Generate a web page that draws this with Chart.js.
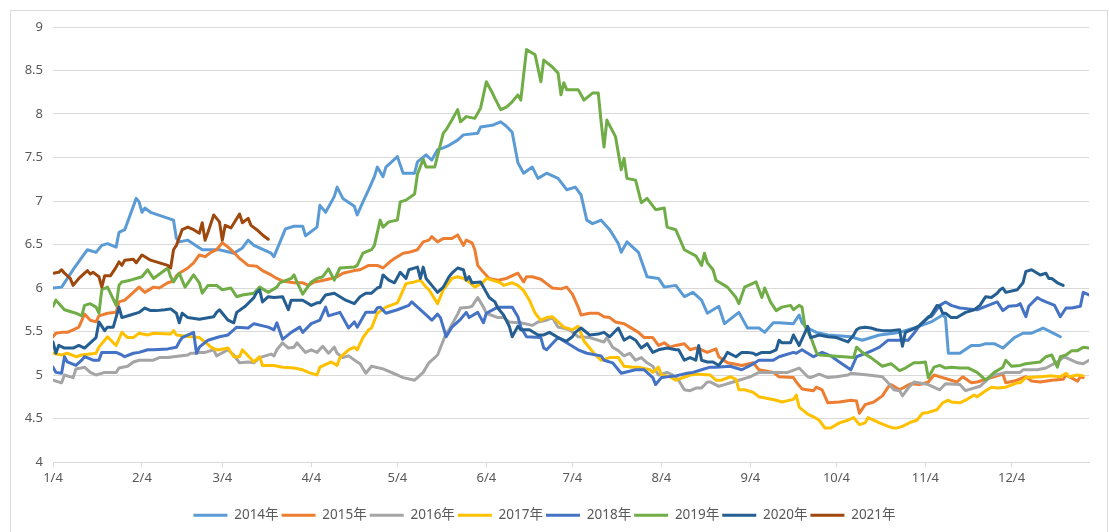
<!DOCTYPE html>
<html>
<head>
<meta charset="utf-8">
<script src="https://cdn.jsdelivr.net/npm/chart.js@4/dist/chart.umd.min.js"></script>
<style>
  html, body { margin: 0; padding: 0; background: #fff; overflow: hidden; }
  #wrap { position: relative; width: 1109px; height: 532px; }
  #frame { position: absolute; left: 10px; top: 10px; width: 1096px; height: 540px;
           border: 1px solid #d9d9d9; pointer-events: none; }
  canvas { position: absolute; left: 0; top: 0; }
</style>
</head>
<body>
<div id="wrap">
  <canvas id="chart" width="1109" height="532"></canvas>
  <div id="frame"></div>
</div>
<script>
// x = days since 1/4, y = value
const monthLabels = ['1/4', '2/4', '3/4', '4/4', '5/4', '6/4', '7/4', '8/4', '9/4', '10/4', '11/4', '12/4'];
const monthDays   = [0, 31, 59, 90, 120, 151, 181, 212, 243, 273, 304, 334];
const seriesNames = ['2014年', '2015年', '2016年', '2017年', '2018年', '2019年', '2020年', '2021年'];
const seriesColors = ['#5B9BD5', '#ED7D31', '#A5A5A5', '#FFC000', '#4472C4', '#70AD47', '#255E91', '#9E480E'];

const y2014 = [[0,6.00],[3,6.01],[7,6.21],[12,6.44],[15,6.41],[17,6.49],[19,6.51],[22,6.47],[23,6.64],[25,6.67],[29,7.03],[30,6.99],[31,6.87],[32,6.92],[34,6.87],[42,6.78],[43,6.57],[44,6.53],[47,6.55],[52,6.44],[58,6.44],[63,6.40],[66,6.46],[68,6.55],[70,6.49],[76,6.40],[77,6.36],[81,6.68],[84,6.71],[87,6.71],[88,6.60],[92,6.70],[93,6.95],[95,6.87],[98,7.05],[99,7.16],[101,7.03],[105,6.94],[106,6.84],[108,6.99],[110,7.13],[112,7.28],[113,7.39],[115,7.28],[116,7.39],[120,7.51],[122,7.32],[126,7.32],[127,7.45],[130,7.53],[132,7.47],[134,7.59],[136,7.61],[138,7.64],[141,7.70],[143,7.76],[148,7.78],[149,7.85],[153,7.87],[156,7.91],[158,7.86],[160,7.79],[162,7.44],[164,7.32],[167,7.39],[169,7.26],[172,7.32],[176,7.26],[179,7.13],[182,7.16],[184,7.07],[186,6.78],[188,6.74],[191,6.78],[194,6.67],[197,6.51],[198,6.41],[200,6.53],[204,6.41],[207,6.13],[211,6.11],[213,6.01],[217,6.03],[220,5.90],[223,5.95],[226,5.86],[228,5.71],[232,5.79],[234,5.59],[239,5.72],[242,5.54],[246,5.54],[248,5.49],[251,5.60],[253,5.60],[258,5.59],[260,5.69],[261,5.60],[263,5.54],[266,5.49],[270,5.46],[278,5.44],[282,5.40],[288,5.46],[293,5.48],[296,5.50],[301,5.55],[306,5.61],[310,5.69],[311,5.66],[312,5.25],[316,5.25],[320,5.34],[323,5.34],[325,5.36],[328,5.36],[331,5.31],[335,5.43],[338,5.48],[341,5.48],[345,5.54],[348,5.49],[351,5.44]];

const y2015 = [[0,5.44],[1,5.48],[3,5.49],[5,5.49],[7,5.52],[9,5.55],[11,5.70],[13,5.63],[15,5.61],[16,5.68],[19,5.71],[22,5.72],[23,5.84],[25,5.86],[28,5.95],[30,6.01],[32,5.95],[35,6.01],[37,6.00],[40,6.06],[42,6.08],[43,6.14],[44,6.17],[47,6.23],[49,6.29],[51,6.38],[53,6.36],[55,6.41],[57,6.44],[59,6.52],[61,6.47],[63,6.41],[65,6.34],[68,6.26],[71,6.25],[73,6.20],[76,6.15],[78,6.11],[80,6.08],[84,6.06],[87,6.06],[89,6.03],[91,6.07],[93,6.08],[97,6.11],[99,6.13],[101,6.17],[105,6.20],[107,6.21],[110,6.26],[113,6.26],[115,6.23],[117,6.29],[119,6.34],[122,6.40],[124,6.41],[127,6.44],[129,6.53],[131,6.55],[132,6.59],[134,6.53],[136,6.57],[139,6.57],[141,6.61],[143,6.49],[144,6.55],[146,6.52],[147,6.44],[148,6.26],[150,6.18],[152,6.11],[155,6.09],[158,6.11],[162,6.17],[164,6.07],[165,6.13],[167,6.13],[170,6.10],[172,6.05],[174,6.00],[177,5.99],[179,6.01],[181,5.93],[183,5.78],[184,5.69],[187,5.71],[190,5.71],[192,5.67],[194,5.66],[196,5.61],[199,5.59],[201,5.55],[204,5.49],[206,5.43],[209,5.43],[211,5.34],[213,5.37],[215,5.32],[217,5.34],[220,5.36],[222,5.29],[224,5.31],[226,5.29],[228,5.26],[231,5.30],[232,5.21],[235,5.14],[237,5.13],[240,5.11],[244,5.14],[246,5.06],[251,5.03],[253,4.98],[258,4.97],[259,4.92],[261,4.84],[265,4.82],[266,4.86],[268,4.83],[270,4.68],[274,4.69],[278,4.71],[280,4.70],[281,4.56],[283,4.66],[286,4.69],[289,4.76],[291,4.86],[292,4.89],[295,4.83],[299,4.90],[302,4.89],[305,4.92],[307,5.00],[310,4.97],[313,4.94],[315,4.92],[317,4.98],[320,4.91],[322,4.92],[324,4.94],[327,4.97],[331,5.01],[332,4.91],[335,4.93],[339,4.98],[341,4.93],[344,4.92],[348,4.94],[352,4.95],[353,5.00],[357,4.93],[358,4.98],[359,4.97]];

const y2016 = [[0,4.94],[3,4.91],[4,5.00],[7,4.97],[8,5.07],[11,5.09],[13,5.03],[15,5.00],[18,5.03],[20,5.03],[22,5.03],[23,5.08],[26,5.10],[28,5.15],[30,5.17],[33,5.17],[35,5.17],[37,5.20],[40,5.20],[42,5.21],[47,5.23],[48,5.25],[50,5.25],[51,5.26],[53,5.26],[56,5.29],[57,5.22],[61,5.29],[63,5.23],[65,5.14],[68,5.15],[70,5.14],[72,5.20],[76,5.24],[77,5.22],[78,5.29],[80,5.37],[82,5.31],[84,5.32],[85,5.37],[88,5.26],[90,5.29],[92,5.26],[94,5.33],[96,5.25],[98,5.32],[99,5.25],[101,5.20],[103,5.22],[106,5.15],[107,5.13],[109,5.02],[111,5.10],[115,5.07],[120,5.00],[122,4.97],[126,4.94],[127,4.97],[129,5.03],[131,5.14],[134,5.23],[137,5.48],[138,5.52],[141,5.70],[142,5.77],[145,5.78],[146,5.79],[148,5.89],[150,5.78],[151,5.71],[155,5.66],[157,5.66],[159,5.61],[162,5.60],[163,5.60],[167,5.57],[169,5.61],[172,5.63],[174,5.66],[176,5.55],[180,5.52],[183,5.44],[187,5.43],[192,5.38],[193,5.43],[195,5.32],[197,5.28],[199,5.22],[201,5.25],[203,5.17],[205,5.20],[207,5.14],[209,5.10],[211,5.00],[214,5.03],[216,5.00],[218,4.94],[220,4.83],[222,4.82],[224,4.85],[226,4.85],[228,4.92],[229,4.92],[232,4.87],[234,4.89],[237,4.92],[239,4.94],[242,4.97],[243,4.98],[246,5.03],[251,5.03],[256,5.03],[260,5.08],[263,4.98],[264,4.97],[267,5.01],[270,4.97],[273,4.98],[277,5.00],[278,5.02],[284,5.00],[289,4.98],[291,4.91],[293,4.83],[295,4.82],[296,4.76],[298,4.85],[300,4.92],[305,4.89],[309,4.83],[311,4.90],[316,4.89],[318,4.82],[323,4.87],[327,4.99],[332,5.03],[337,5.03],[338,5.06],[343,5.06],[346,5.08],[350,5.15],[352,5.20],[353,5.20],[357,5.14],[359,5.13],[361,5.17]];

const y2017 = [[0,5.25],[3,5.23],[5,5.25],[8,5.21],[10,5.23],[15,5.25],[16,5.32],[18,5.40],[19,5.44],[21,5.37],[22,5.34],[24,5.49],[26,5.43],[28,5.43],[30,5.48],[33,5.46],[35,5.48],[41,5.47],[42,5.51],[43,5.46],[48,5.44],[51,5.43],[53,5.38],[55,5.32],[57,5.29],[58,5.29],[61,5.31],[63,5.21],[65,5.21],[66,5.29],[70,5.15],[72,5.21],[73,5.11],[77,5.11],[80,5.09],[84,5.08],[87,5.06],[89,5.03],[91,5.01],[92,5.00],[93,5.09],[97,5.15],[99,5.11],[100,5.20],[103,5.29],[105,5.32],[106,5.29],[108,5.43],[110,5.52],[111,5.54],[113,5.71],[116,5.78],[120,5.83],[121,5.90],[123,6.05],[126,6.07],[128,6.09],[130,6.01],[131,5.98],[134,5.82],[136,5.98],[139,6.11],[141,6.13],[143,6.11],[145,6.07],[147,6.01],[150,6.07],[151,6.11],[153,6.09],[156,6.06],[157,6.03],[160,6.06],[162,6.03],[164,5.97],[166,5.86],[168,5.71],[170,5.63],[172,5.66],[174,5.67],[178,5.55],[181,5.52],[183,5.56],[185,5.39],[187,5.31],[189,5.23],[191,5.17],[194,5.20],[197,5.20],[199,5.10],[202,5.09],[204,5.09],[208,5.06],[209,5.03],[211,5.09],[212,5.00],[215,4.98],[217,4.94],[222,5.00],[225,5.01],[229,5.00],[231,4.94],[233,4.94],[236,4.98],[238,4.95],[239,4.83],[241,4.83],[244,4.80],[246,4.75],[252,4.71],[254,4.69],[258,4.72],[259,4.77],[260,4.63],[263,4.55],[265,4.52],[267,4.48],[269,4.39],[271,4.39],[274,4.45],[277,4.48],[279,4.51],[281,4.43],[283,4.45],[284,4.51],[288,4.45],[291,4.41],[293,4.39],[294,4.39],[296,4.41],[299,4.46],[301,4.48],[303,4.56],[305,4.57],[308,4.60],[310,4.68],[312,4.71],[313,4.69],[316,4.68],[318,4.71],[321,4.77],[322,4.75],[325,4.82],[327,4.86],[329,4.85],[332,4.86],[336,4.91],[337,4.91],[339,4.97],[340,4.97],[344,4.98],[348,4.99],[351,4.98],[353,5.02],[354,4.98],[357,5.00],[359,4.99]];

const y2018 = [[0,5.09],[1,5.03],[3,5.02],[4,5.21],[5,5.15],[8,5.11],[10,5.17],[11,5.21],[14,5.17],[16,5.17],[17,5.26],[22,5.26],[24,5.23],[25,5.21],[28,5.25],[30,5.26],[33,5.29],[35,5.29],[40,5.30],[43,5.32],[44,5.38],[45,5.43],[49,5.49],[50,5.25],[51,5.32],[54,5.40],[58,5.44],[61,5.46],[63,5.52],[64,5.55],[68,5.54],[70,5.59],[75,5.55],[77,5.52],[78,5.60],[80,5.41],[83,5.49],[86,5.55],[87,5.49],[90,5.59],[93,5.63],[95,5.78],[96,5.68],[100,5.72],[103,5.54],[105,5.61],[106,5.55],[109,5.72],[112,5.72],[113,5.77],[114,5.78],[116,5.71],[120,5.75],[124,5.80],[125,5.84],[130,5.69],[132,5.63],[134,5.70],[135,5.66],[137,5.44],[139,5.55],[142,5.64],[144,5.72],[145,5.66],[148,5.72],[150,5.60],[151,5.71],[155,5.78],[158,5.78],[160,5.78],[162,5.67],[163,5.55],[165,5.44],[170,5.43],[171,5.31],[172,5.29],[176,5.43],[179,5.37],[183,5.29],[186,5.25],[191,5.22],[192,5.17],[195,5.14],[198,5.02],[203,5.06],[206,5.06],[207,5.03],[209,4.97],[210,4.89],[212,4.97],[217,4.99],[221,5.02],[223,5.03],[226,5.06],[229,5.09],[231,5.09],[236,5.10],[240,5.06],[243,5.11],[246,5.17],[251,5.17],[253,5.21],[258,5.26],[259,5.25],[261,5.29],[265,5.21],[268,5.26],[271,5.22],[274,5.15],[278,5.06],[280,5.21],[284,5.26],[286,5.29],[288,5.32],[291,5.40],[293,5.40],[295,5.40],[298,5.40],[300,5.48],[302,5.57],[305,5.67],[306,5.67],[307,5.71],[309,5.80],[311,5.84],[313,5.80],[316,5.77],[319,5.76],[322,5.75],[325,5.79],[329,5.84],[331,5.74],[333,5.79],[336,5.80],[337,5.82],[339,5.67],[340,5.79],[343,5.89],[344,5.87],[346,5.84],[349,5.80],[351,5.67],[353,5.77],[355,5.77],[358,5.79],[359,5.95],[361,5.92]];

const y2019 = [[0,5.79],[1,5.86],[4,5.75],[8,5.71],[10,5.68],[11,5.80],[13,5.82],[15,5.78],[16,5.71],[17,5.98],[19,6.01],[22,5.80],[23,6.03],[24,6.07],[27,6.09],[31,6.13],[33,6.21],[35,6.11],[40,6.23],[41,6.13],[42,6.07],[44,6.17],[46,6.01],[49,6.15],[51,6.06],[52,5.94],[54,6.03],[57,6.03],[59,5.98],[62,6.00],[64,5.90],[66,5.92],[70,5.94],[72,6.01],[75,5.95],[78,6.01],[79,6.06],[83,6.11],[84,6.15],[85,6.07],[87,5.93],[90,6.07],[92,6.11],[94,6.13],[96,6.22],[98,6.09],[100,6.23],[105,6.24],[106,6.26],[108,6.40],[111,6.44],[112,6.49],[114,6.78],[115,6.70],[117,6.76],[120,6.78],[121,6.99],[123,7.01],[126,7.08],[127,7.31],[129,7.48],[130,7.39],[133,7.39],[136,7.78],[137,7.82],[139,7.93],[141,8.05],[142,7.91],[144,7.97],[147,7.95],[149,8.07],[151,8.37],[153,8.25],[154,8.18],[156,8.05],[158,8.08],[160,8.14],[162,8.22],[163,8.16],[165,8.74],[168,8.68],[170,8.37],[171,8.62],[174,8.54],[176,8.47],[177,8.22],[178,8.36],[179,8.28],[183,8.28],[185,8.16],[188,8.24],[190,8.24],[191,7.91],[192,7.62],[193,7.93],[196,7.74],[198,7.36],[199,7.49],[200,7.26],[203,7.24],[205,6.98],[207,7.03],[210,6.90],[213,6.92],[214,6.70],[217,6.67],[220,6.44],[224,6.37],[226,6.26],[227,6.40],[228,6.29],[230,6.21],[231,6.09],[235,6.01],[238,5.89],[239,5.82],[241,6.01],[245,6.07],[247,5.89],[248,6.00],[250,5.84],[252,5.74],[254,5.78],[257,5.80],[258,5.75],[260,5.80],[261,5.78],[262,5.56],[264,5.44],[266,5.26],[267,5.23],[279,5.20],[280,5.32],[282,5.26],[285,5.20],[289,5.10],[292,5.13],[295,5.05],[297,5.08],[300,5.14],[302,5.14],[304,5.15],[305,4.97],[307,5.09],[309,5.11],[311,5.08],[313,5.09],[316,5.08],[319,5.08],[322,5.03],[325,4.94],[328,5.03],[331,5.09],[332,5.17],[334,5.10],[337,5.11],[339,5.13],[344,5.15],[346,5.21],[348,5.23],[350,5.09],[351,5.21],[353,5.23],[355,5.28],[357,5.28],[359,5.32],[361,5.31]];

const y2020 = [[0,5.38],[1,5.25],[2,5.34],[4,5.31],[7,5.31],[9,5.34],[11,5.31],[13,5.37],[15,5.43],[16,5.61],[18,5.51],[19,5.55],[21,5.55],[23,5.78],[24,5.66],[27,5.69],[30,5.72],[32,5.77],[34,5.74],[36,5.74],[39,5.75],[41,5.76],[43,5.71],[44,5.60],[45,5.71],[47,5.66],[51,5.64],[56,5.67],[57,5.72],[58,5.75],[61,5.63],[63,5.60],[64,5.72],[67,5.79],[70,5.89],[71,5.95],[72,5.98],[73,5.84],[75,5.90],[77,5.89],[80,5.90],[82,5.75],[83,5.86],[87,5.86],[90,5.80],[92,5.83],[93,5.83],[95,5.92],[98,5.94],[100,5.90],[102,5.86],[105,5.82],[107,5.90],[109,5.94],[111,5.94],[113,6.00],[114,6.01],[115,6.15],[117,6.09],[119,6.06],[121,6.18],[123,6.11],[124,6.21],[127,6.24],[128,6.11],[129,6.24],[130,6.11],[132,6.03],[134,5.95],[136,6.01],[138,6.13],[139,6.17],[141,6.23],[143,6.21],[144,6.09],[145,6.13],[146,6.06],[149,6.07],[151,5.95],[152,5.89],[154,5.84],[155,5.77],[157,5.69],[159,5.56],[160,5.44],[162,5.56],[163,5.52],[166,5.52],[169,5.46],[171,5.46],[173,5.49],[176,5.43],[178,5.40],[179,5.39],[181,5.44],[182,5.49],[184,5.54],[187,5.46],[190,5.47],[192,5.49],[194,5.44],[197,5.54],[199,5.40],[201,5.44],[203,5.40],[205,5.31],[207,5.36],[209,5.26],[211,5.29],[214,5.31],[217,5.29],[218,5.29],[220,5.17],[222,5.20],[224,5.17],[225,5.34],[226,5.17],[228,5.15],[230,5.15],[232,5.11],[234,5.20],[235,5.26],[238,5.21],[240,5.26],[242,5.26],[244,5.25],[245,5.23],[247,5.26],[250,5.26],[252,5.29],[253,5.40],[254,5.37],[257,5.37],[258,5.46],[260,5.34],[263,5.56],[264,5.43],[267,5.46],[270,5.44],[273,5.43],[277,5.38],[279,5.46],[280,5.52],[281,5.54],[283,5.55],[285,5.54],[287,5.52],[289,5.51],[292,5.51],[295,5.52],[296,5.33],[297,5.49],[299,5.52],[301,5.55],[302,5.57],[305,5.66],[306,5.69],[308,5.80],[309,5.79],[310,5.71],[311,5.71],[313,5.66],[315,5.66],[316,5.68],[318,5.72],[321,5.75],[323,5.80],[325,5.90],[327,5.89],[329,5.94],[330,5.98],[331,6.00],[332,5.95],[336,5.98],[338,6.06],[339,6.19],[340,6.20],[341,6.21],[343,6.17],[344,6.15],[346,6.17],[347,6.11],[348,6.11],[350,6.06],[352,6.03]];

const y2021 = [[0,6.17],[2,6.18],[3,6.21],[4,6.17],[6,6.11],[7,6.03],[9,6.11],[12,6.20],[13,6.16],[14,6.18],[16,6.13],[17,6.01],[18,6.14],[20,6.14],[22,6.24],[23,6.30],[24,6.26],[25,6.32],[28,6.33],[29,6.29],[31,6.38],[34,6.32],[36,6.30],[40,6.26],[41,6.23],[42,6.44],[43,6.49],[45,6.67],[47,6.70],[49,6.67],[51,6.63],[52,6.75],[53,6.55],[54,6.64],[56,6.84],[58,6.76],[59,6.55],[60,6.72],[62,6.69],[65,6.85],[66,6.75],[68,6.80],[69,6.72],[71,6.67],[73,6.61],[75,6.56]];

const seriesData = [y2014, y2015, y2016, y2017, y2018, y2019, y2020, y2021];

const datasets = seriesData.map((pts, i) => ({
  label: seriesNames[i],
  data: pts.map(p => ({ x: p[0], y: p[1] })),
  borderColor: seriesColors[i],
  backgroundColor: seriesColors[i],
  borderWidth: 3,
  pointRadius: 0,
  tension: 0,
  borderJoinStyle: 'round',
  borderCapStyle: 'round',
  order: seriesData.length - i,   // later years drawn on top, like Excel
}));

const textColor = '#595959';
const fontFamily = '"Noto Sans", "Noto Sans CJK SC", sans-serif';

new Chart(document.getElementById('chart'), {
  type: 'line',
  data: { datasets },
  options: {
    responsive: false,
    animation: false,
    layout: { padding: { left: 0, right: 20, top: 27, bottom: 0 } },
    plugins: {
      tooltip: { enabled: false },
      legend: {
        position: 'bottom',
        labels: {
          usePointStyle: true,
          pointStyle: 'line',
          pointStyleWidth: 34,
          padding: 3,
          color: textColor,
          font: { family: fontFamily, size: 13.5 },
          sort: (a, b) => a.datasetIndex - b.datasetIndex,
        },
      },
    },
    scales: {
      x: {
        type: 'linear',
        min: 0,
        max: 361,
        afterBuildTicks(scale) {
          scale.ticks = monthDays.map(v => ({ value: v }));
        },
        afterFit(scale) { scale.height = 43.5; },
        ticks: {
          color: textColor,
          font: { family: fontFamily, size: 13 },
          padding: 3,
          maxRotation: 0,
          autoSkip: false,
          callback: (v) => monthLabels[monthDays.indexOf(v)],
        },
        grid: { drawOnChartArea: false, drawTicks: true, tickLength: 5, color: '#d9d9d9' },
        border: { display: true, color: '#d9d9d9', width: 1 },
      },
      y: {
        min: 4,
        max: 9,
        afterFit(scale) { scale.width = 53; },
        ticks: {
          stepSize: 0.5,
          color: textColor,
          font: { family: fontFamily, size: 13 },
          padding: 10,
          callback: (v) => String(v),
        },
        grid: { color: '#d9d9d9', drawTicks: false, lineWidth: 1 },
        border: { display: false },
      },
    },
  },
});
</script>
</body>
</html>
